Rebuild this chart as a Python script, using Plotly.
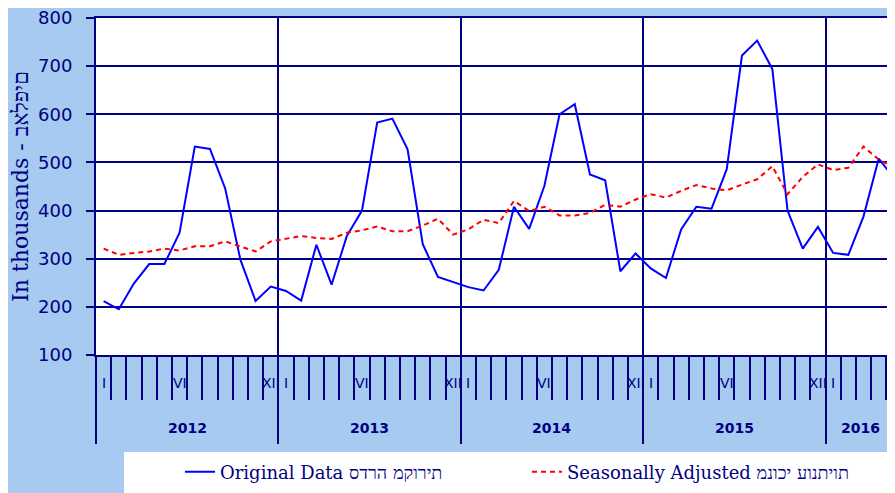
import plotly.graph_objects as go

# ---- data ----
year_labels = ["2012", "2013", "2014", "2015", "2016"]
months_in_year = [12, 12, 12, 12, 5]
roman_labels = {1: "I", 6: "VI", 12: "XII"}

original = [212, 195, 249, 289, 289, 354, 533, 528, 446, 298, 212, 242,
            233, 213, 329, 246, 347, 400, 583, 591, 527, 330, 262, 252,
            241, 234, 277, 408, 362, 451, 600, 621, 475, 463, 274, 311,
            280, 260, 361, 408, 404, 486, 722, 753, 694, 400, 321, 366,
            312, 308, 388, 508, 468]
seasonal = [321, 308, 312, 315, 321, 317, 326, 326, 336, 326, 315, 336,
            341, 347, 343, 341, 354, 359, 367, 357, 357, 369, 383, 350,
            361, 381, 374, 420, 399, 408, 390, 390, 395, 412, 408, 423,
            434, 427, 441, 453, 446, 442, 454, 465, 492, 434, 470, 496,
            484, 489, 533, 506, 490]

name_original = "Original Data סדרה מקורית"
name_seasonal = "Seasonally Adjusted מנוכי עונתיות"
y_title = "In thousands - באלפים"


def visual(s):
    """Hebrew tail in visual (right-to-left) order for SVG text."""
    for i, c in enumerate(s):
        if "\u0590" <= c <= "\u05FF":
            return s[:i] + s[i:][::-1]
    return s


# ---- derived positions ----
n = len(original)
x = list(range(n))
month_of = []
for cnt in months_in_year:
    month_of += list(range(1, cnt + 1))

year_bounds = [-0.5]
for cnt in months_in_year:
    year_bounds.append(year_bounds[-1] + cnt)

X_MIN, X_MAX = -0.5, 52.07
NAVY = "#000080"
BG = "#A6CAF0"

OFF = 8                      # page body margin
W, H = 895 - OFF, 493 - OFF
PLOT_L, PLOT_R, PLOT_T, PLOT_B = 96, 895, 18, 355   # page pixels
ML, MR, MT, MB = PLOT_L - OFF, 0, PLOT_T - OFF, H - (PLOT_B - OFF)
plot_w = PLOT_R - PLOT_L
plot_h = PLOT_B - PLOT_T


def py(px):  # page pixel y -> paper y
    return (PLOT_B - px) / plot_h


def pxx(px):  # page pixel x -> paper x
    return (px - PLOT_L) / plot_w


fig = go.Figure()
fig.add_trace(go.Scatter(x=x, y=original, mode="lines", name=visual(name_original),
                         line=dict(color="#0000FF", width=2)))
fig.add_trace(go.Scatter(x=x, y=seasonal, mode="lines", name=visual(name_seasonal),
                         line=dict(color="#FF0000", width=2, dash="5px,4px")))

annotations = []
for i in range(n):
    m = month_of[i]
    if m in roman_labels:
        annotations.append(dict(x=i, y=py(383), xref="x", yref="paper",
                                text=roman_labels[m], showarrow=False,
                                font=dict(family="DejaVu Sans", size=14, color=NAVY),
                                xanchor="center", yanchor="middle"))
for k, lab in enumerate(year_labels):
    a = year_bounds[k]
    b = min(year_bounds[k + 1], X_MAX)
    annotations.append(dict(x=(a + b) / 2, y=py(428), xref="x", yref="paper",
                            text="<b>" + lab + "</b>", showarrow=False,
                            font=dict(family="DejaVu Sans", size=14, color=NAVY),
                            xanchor="center", yanchor="middle"))

fig.update_layout(
    width=W, height=H,
    margin=dict(l=ML, r=MR, t=MT, b=MB, pad=0),
    paper_bgcolor=BG, plot_bgcolor="white",
    annotations=annotations,
    shapes=[dict(type="rect", xref="paper", yref="paper",
                 x0=pxx(124), x1=pxx(890), y0=py(452), y1=py(505),
                 fillcolor="white", line=dict(width=0), layer="below")],
    legend=dict(orientation="h", x=pxx(180), y=py(472), xanchor="left", yanchor="middle",
                bgcolor="rgba(0,0,0,0)", entrywidth=302,
                font=dict(family="DejaVu Serif", size=18, color=NAVY)),
    xaxis=dict(range=[X_MIN, X_MAX], showticklabels=False,
               tickmode="array", tickvals=year_bounds, ticks="outside",
               ticklen=87, tickwidth=2, tickcolor=NAVY,
               showgrid=True, gridcolor=NAVY, gridwidth=2,
               showline=True, mirror=True, linecolor=NAVY, linewidth=2, zeroline=False,
               minor=dict(tickmode="array", tickvals=[k - 0.5 for k in range(n + 1)],
                          ticks="outside", ticklen=43, tickwidth=2, tickcolor=NAVY,
                          showgrid=False)),
    yaxis=dict(range=[100, 800], tickmode="array",
               tickvals=list(range(100, 801, 100)),
               ticks="outside", ticklen=8, tickwidth=2, tickcolor=NAVY,
               showgrid=True, gridcolor=NAVY, gridwidth=2,
               showline=True, linecolor=NAVY, linewidth=2, zeroline=False,
               tickfont=dict(family="DejaVu Sans", size=18, color=NAVY),
               ticklabelstandoff=10, ticklabeloverflow="allow",
               title=dict(text=visual(y_title), standoff=12,
                          font=dict(family="DejaVu Serif", size=22, color=NAVY))),
)

fig.write_html("out.html")
